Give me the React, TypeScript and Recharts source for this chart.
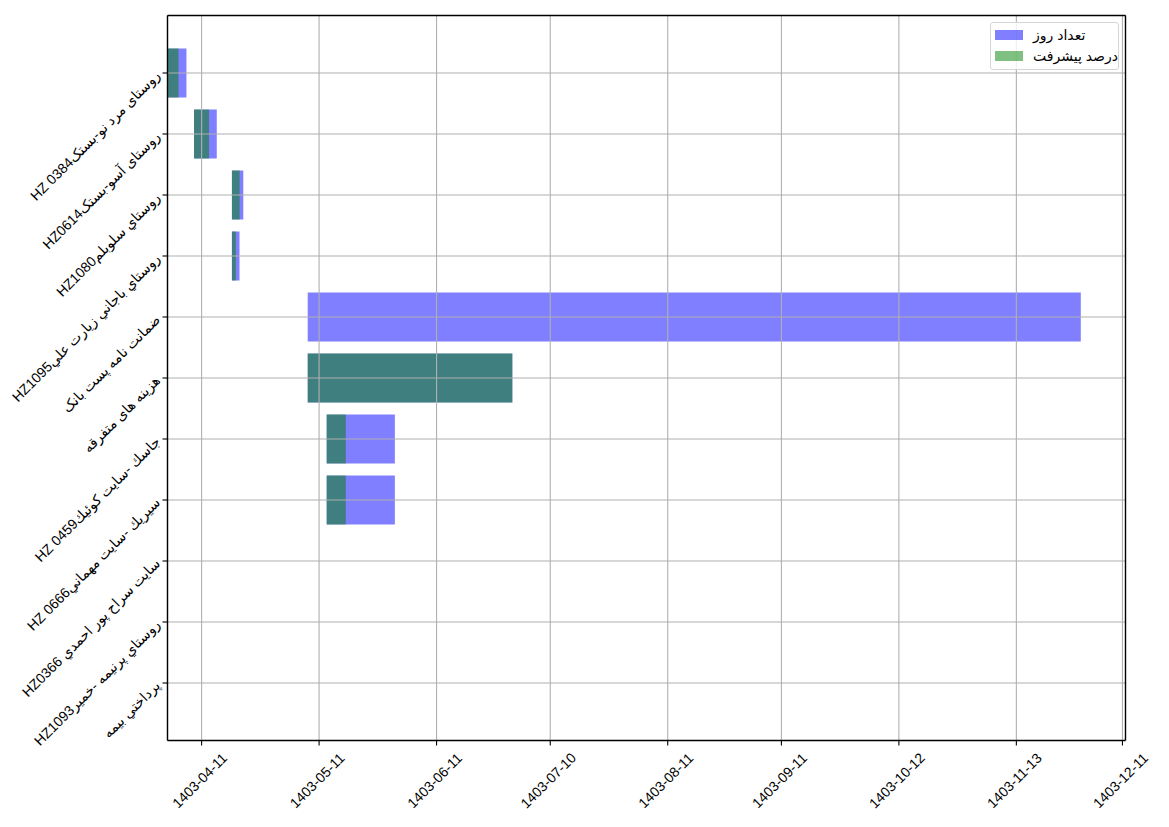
import React from "react";
import { Bar, BarChart, CartesianGrid, XAxis, YAxis } from "recharts";

// rows, top to bottom
const taskNames = [
  "روستای مرد نو-بستکHZ 0384",
  "روستای آسو-بستکHZ0614",
  "روستاي سلوبلمHZ1080",
  "روستاي باجاني زيارت عليHZ1095",
  "ضمانت نامه پست بانک",
  "هزینه های متفرقه",
  "جاسك -سايت كوئيكHZ 0459",
  "سيريك -سايت مهمانيHZ 0666",
  "سايت سراح پور احمدي HZ0366",
  "روستاي پرنيمه -خميرHZ1093",
  "پرداختي بيمه",
];

// days counted from 2024-07-01 (1403-04-11)
const startDays = [-9, -2, 8, 8, 28, 28, 33, 33, null, null, null];
const durationDays = [5, 6, 3, 2, 204, 54, 18, 18, null, null, null];
const progressPercent = [58, 66, 68, 52, 0, 100, 28, 28, null, null, null];

const tickDays = [0, 31, 62, 92, 123, 153, 184, 215, 243];
const tickLabels = [
  "1403-04-11",
  "1403-05-11",
  "1403-06-11",
  "1403-07-10",
  "1403-08-11",
  "1403-09-11",
  "1403-10-12",
  "1403-11-13",
  "1403-12-11",
];
const xDomain = [-9, 243.8];

const legendLabels = ["تعداد روز", "درصد پیشرفت"];
const legendColors = ["rgba(0,0,255,0.5)", "rgba(0,128,0,0.5)"];

const font = '"Liberation Sans", "DejaVu Sans", sans-serif';

const data = taskNames.map((name, i) => {
  const s = startDays[i];
  const d = durationDays[i];
  const p = progressPercent[i];
  return {
    name,
    days: s == null || d == null ? null : [s, s + d],
    progress: s == null || d == null || !p ? null : [s, s + (d * p) / 100],
  };
});

const YTick = ({ x, y, payload }: any) => (
  <text
    x={x}
    y={y}
    textAnchor="end"
    dominantBaseline="central"
    fontSize={14}
    fontFamily={font}
    fill="#000"
    stroke="none"
    transform={`rotate(-45 ${x} ${y})`}
  >
    {"\u202B" + payload.value + "\u202C"}
  </text>
);

const XTick = ({ x, y, payload }: any) => {
  const cx = x - 2;
  const cy = y + 30;
  return (
    <text
      x={cx}
      y={cy}
      textAnchor="middle"
      dominantBaseline="central"
      fontSize={14}
      fontFamily={font}
      fill="#000"
      stroke="none"
      transform={`rotate(-45 ${cx} ${cy})`}
    >
      {tickLabels[tickDays.indexOf(payload.value)]}
    </text>
  );
};

const frame = { stroke: "#000", strokeWidth: 1.4 };

const App = () => (
  <div style={{ position: "absolute", left: 0, top: 0, width: 1169, height: 827, background: "#fff" }}>
    <BarChart
      width={1169}
      height={827}
      data={data}
      layout="vertical"
      margin={{ top: 14.5, right: 42.5, bottom: 0, left: 0 }}
      barSize={49}
      barGap={-49}
    >
      <CartesianGrid stroke="#b0b0b0" strokeWidth={1.1} zIndex={1000} />
      <Bar dataKey="days" fill={legendColors[0]} isAnimationActive={false} />
      <Bar dataKey="progress" fill={legendColors[1]} isAnimationActive={false} />
      <XAxis
        type="number"
        domain={xDomain}
        allowDataOverflow
        ticks={tickDays}
        interval={0}
        height={86.5}
        stroke="#000"
        tick={XTick}
        tickSize={5}
        tickMargin={5}
        tickLine={{ stroke: "#000", strokeWidth: 1.1 }}
        axisLine={frame}
        zIndex={1100}
      />
      <XAxis
        xAxisId="top"
        orientation="top"
        type="number"
        domain={xDomain}
        allowDataOverflow
        height={1}
        stroke="#000"
        tick={false}
        tickLine={false}
        axisLine={frame}
        zIndex={1100}
      />
      <YAxis
        type="category"
        dataKey="name"
        width={167.5}
        interval={0}
        padding={{ top: 27, bottom: 27 }}
        stroke="#000"
        tick={YTick}
        tickSize={5}
        tickMargin={5}
        tickLine={{ stroke: "#000", strokeWidth: 1.1 }}
        axisLine={frame}
        zIndex={1100}
      />
      <YAxis
        yAxisId="right"
        orientation="right"
        type="category"
        dataKey="name"
        width={1}
        padding={{ top: 27, bottom: 27 }}
        stroke="#000"
        tick={false}
        tickLine={false}
        axisLine={frame}
        zIndex={1100}
      />
    </BarChart>
    <div
      style={{
        position: "absolute",
        left: 990,
        top: 22,
        width: 129,
        height: 48,
        boxSizing: "border-box",
        border: "1px solid #d6d6d6",
        borderRadius: 3,
        background: "rgba(255,255,255,0.8)",
        fontFamily: font,
        fontSize: 14,
      }}
    >
      {legendLabels.map((label, i) => (
        <div key={label} style={{ position: "absolute", left: 4, top: 6 + i * 21, height: 12, display: "flex", alignItems: "center" }}>
          <span style={{ display: "inline-block", width: 28, height: 10, background: legendColors[i] }} />
          <span style={{ marginLeft: 10, lineHeight: "12px", whiteSpace: "nowrap" }}>{label}</span>
        </div>
      ))}
    </div>
  </div>
);

export default App;
